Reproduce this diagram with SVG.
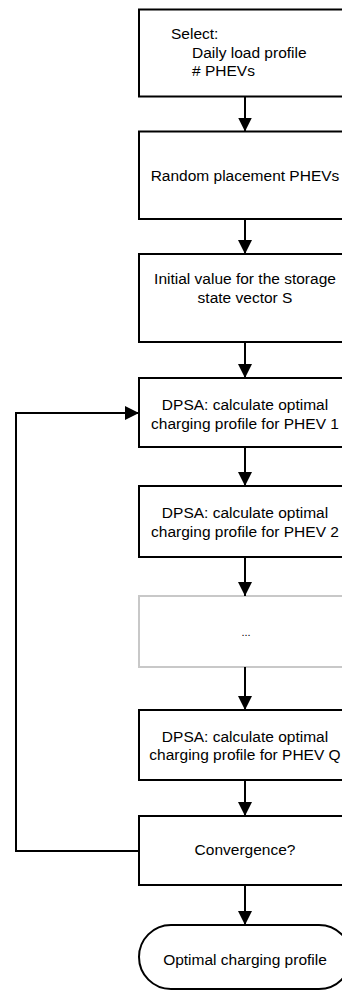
<svg xmlns="http://www.w3.org/2000/svg" width="342" height="992" viewBox="0 0 342 992">
<style>
.box{fill:#fff;stroke:#000;stroke-width:2}
.dim{fill:#fff;stroke:#c8c8c8;stroke-width:2}
.t{font-family:"Liberation Sans",Arial,sans-serif;font-size:15.5px;fill:#000}
.c{text-anchor:middle}
.edge{fill:none;stroke:#000;stroke-width:2}
</style>
<defs>
<marker id="ah" markerUnits="userSpaceOnUse" markerWidth="14" markerHeight="14" refX="14" refY="7" orient="auto">
<path d="M0,0 L14,7 L0,14 z" fill="#000"/>
</marker>
</defs>
<rect width="342" height="992" fill="#fff"/>
<g id="n1"><rect class="box" x="139" y="9.5" width="212" height="87"/>
<text class="t" x="171" y="39">Select:</text>
<text class="t" x="192" y="57.5">Daily load profile</text>
<text class="t" x="192" y="76">#<tspan dx="4.3">PHEVs</tspan></text></g>
<g id="n2"><rect class="box" x="139" y="131.5" width="212" height="87.5"/>
<text class="t c" x="245" y="181">Random placement PHEVs</text></g>
<g id="n3"><rect class="box" x="139" y="254" width="212" height="88"/>
<text class="t c" x="245" y="284">Initial value for the storage</text>
<text class="t c" x="245" y="303">state vector S</text></g>
<g id="n4"><rect class="box" x="139" y="378" width="212" height="69"/>
<text class="t c" x="245" y="410">DPSA: calculate optimal</text>
<text class="t c" x="245" y="428.5">charging profile for PHEV 1</text></g>
<g id="n5"><rect class="box" x="139" y="486" width="212" height="71"/>
<text class="t c" x="245" y="518">DPSA: calculate optimal</text>
<text class="t c" x="245" y="536.5">charging profile for PHEV 2</text></g>
<g id="n6"><rect class="dim" x="139" y="596" width="212" height="71"/>
<text class="t c" x="246" y="636" style="font-size:11px">...</text></g>
<g id="n7"><rect class="box" x="139" y="710" width="212" height="70"/>
<text class="t c" x="245" y="741.5">DPSA: calculate optimal</text>
<text class="t c" x="245" y="760">charging profile for PHEV Q</text></g>
<g id="n8"><rect class="box" x="139" y="816" width="212" height="69"/>
<text class="t c" x="245" y="855">Convergence?</text></g>
<g id="n9"><rect class="box" x="139" y="925" width="212" height="64" rx="32" ry="32"/>
<text class="t c" x="245" y="965">Optimal charging profile</text></g>
<g id="edges">
<line class="edge" x1="245" y1="96.5" x2="245" y2="131.5" marker-end="url(#ah)"/>
<line class="edge" x1="245" y1="219" x2="245" y2="254" marker-end="url(#ah)"/>
<line class="edge" x1="245" y1="342" x2="245" y2="378" marker-end="url(#ah)"/>
<line class="edge" x1="245" y1="447" x2="245" y2="486" marker-end="url(#ah)"/>
<line class="edge" x1="245" y1="557" x2="245" y2="596" marker-end="url(#ah)"/>
<line class="edge" x1="245" y1="667" x2="245" y2="710" marker-end="url(#ah)"/>
<line class="edge" x1="245" y1="780" x2="245" y2="816" marker-end="url(#ah)"/>
<line class="edge" x1="245" y1="885" x2="245" y2="925" marker-end="url(#ah)"/>
<polyline class="edge" points="139,851 16,851 16,413 139,413" marker-end="url(#ah)"/>
</g>
</svg>
